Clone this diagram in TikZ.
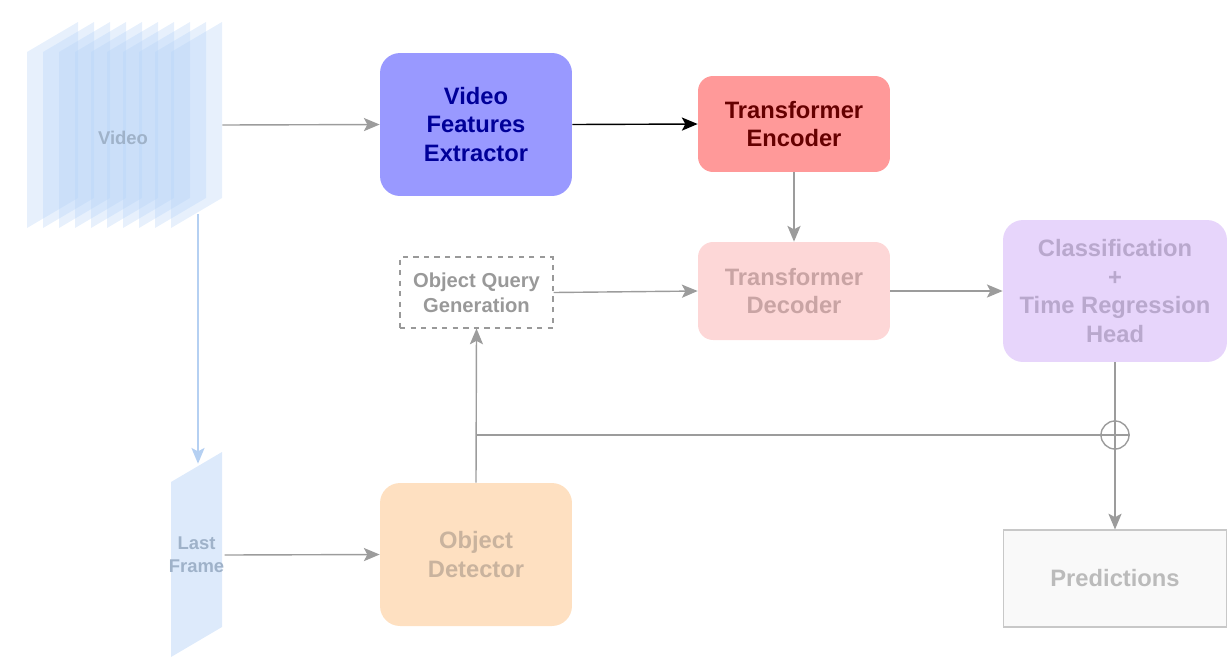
\documentclass[tikz,border=0pt]{standalone}
\usepackage{fontspec}
\setmainfont{Liberation Sans}
\usetikzlibrary{arrows.meta, positioning, shapes.geometric, calc}
\definecolor{frameBlue}{HTML}{B3D1F7}
\definecolor{frameText}{HTML}{9FB2C9}
\definecolor{lineBlue}{HTML}{B5D0F2}
\definecolor{vfeFill}{HTML}{9999FF}
\definecolor{vfeText}{HTML}{000099}
\definecolor{encFill}{HTML}{FF9999}
\definecolor{encText}{HTML}{660000}
\definecolor{decFill}{HTML}{FDD7D7}
\definecolor{decText}{HTML}{C9A4A4}
\definecolor{headFill}{HTML}{E7D5FB}
\definecolor{headText}{HTML}{B9A8CD}
\definecolor{detFill}{HTML}{FEE0C1}
\definecolor{detText}{HTML}{C9B39E}
\definecolor{predFill}{HTML}{F9F9F9}
\definecolor{predDraw}{HTML}{C8C8C8}
\definecolor{predText}{HTML}{BBBBBB}
\definecolor{queryText}{HTML}{999999}
\definecolor{arrowGray}{HTML}{9C9C9C}

\begin{document}
\begin{tikzpicture}[x=0.02cm, y=-0.02cm,
    font=\bfseries\fontsize{13.5}{16.3}\selectfont,
    block/.style={rounded corners=0.4cm, align=center, inner sep=0pt},
    small/.style={font=\bfseries\fontsize{10.5}{13}\selectfont, text=frameText},
    conn/.style={draw=arrowGray, line width=0.8pt, -{Stealth[length=9pt, width=7.5pt, inset=2pt]}},
    plain/.style={draw=arrowGray, line width=0.8pt}]
        \useasboundingbox (0,0) rectangle (1227,657);
        % Video (pila de cuadros)
        \foreach \i in {0,...,9}
        {
          \fill[frameBlue, fill opacity=0.32]
            (27+16*\i,52) -- (78+16*\i,22) -- (78+16*\i,198) -- (27+16*\i,228) -- cycle;
        }
        \node[minimum width=3.9cm, minimum height=4.12cm, inner sep=0pt] (video) at (124.5,125) {};
        \node[small] (videoLabel) at (123,138) {Video};
        \coordinate (videoOut) at (198,214);
        % Last frame
        \fill[frameBlue, fill opacity=0.45] (171,482) -- (222,452) -- (222,627) -- (171,657) -- cycle;
        \node[small, align=center, minimum width=1.02cm, minimum height=3.64cm, inner sep=0pt]
              (lastFrame) at (196.5,555) {Last\\Frame};
        % Bloques
        \node[block, fill=vfeFill, text=vfeText, minimum width=3.84cm, minimum height=2.86cm]
              (vfe) at (476,124.5) {Video\\Features\\Extractor};
        \node[block, rounded corners=0.3cm, fill=encFill, text=encText, minimum width=3.84cm, minimum height=1.92cm]
              (enc) at (794,124) {Transformer\\Encoder};
        \node[block, rounded corners=0.3cm, fill=decFill, text=decText, minimum width=3.84cm, minimum height=1.96cm]
              (dec) at (794,291) {Transformer\\Decoder};
        \node[draw=queryText, dashed, line width=0.6pt, align=center, text=queryText, inner sep=0pt,
              font=\bfseries\fontsize{11.5}{14.2}\selectfont, minimum width=3.06cm, minimum height=1.42cm]
              (query) at (476.5,292.5) {Object Query\\Generation};
        \node[block, fill=headFill, text=headText, minimum width=4.48cm, minimum height=2.84cm]
              (head) at (1115,291) {Classification\\+\\Time Regression\\Head};
        \node[block, fill=detFill, text=detText, minimum width=3.84cm, minimum height=2.86cm]
              (det) at (476,554.5) {Object\\Detector};
        \node[draw=predDraw, fill=predFill, text=predText, line width=0.6pt, minimum width=4.48cm, minimum height=1.94cm]
              (pred) at (1115,578.5) {Predictions};
        \node[circle, draw=arrowGray, line width=0.8pt, minimum size=0.56cm, inner sep=0pt] (sum) at (1115,435) {};
        % Conexiones
        \draw[conn] (video.east) -- (vfe.west);
        \draw[conn, draw=black] (vfe.east) -- (enc.west);
        \draw[conn] (enc.south) -- (dec.north);
        \draw[conn] (query.east) -- (dec.west);
        \draw[conn] (dec.east) -- (head.west);
        \draw[conn] (head.south) -- (pred.north);
        \draw[conn, draw=lineBlue] (videoOut) -- (videoOut |- lastFrame.north);
        \draw[conn] (lastFrame.east) -- (det.west);
        \draw[conn] (det.north) -- (query.south);
        \coordinate (fork) at (det.north |- sum);
        \draw[plain] (fork) -- (sum.east);
      \end{tikzpicture}
\end{document}
